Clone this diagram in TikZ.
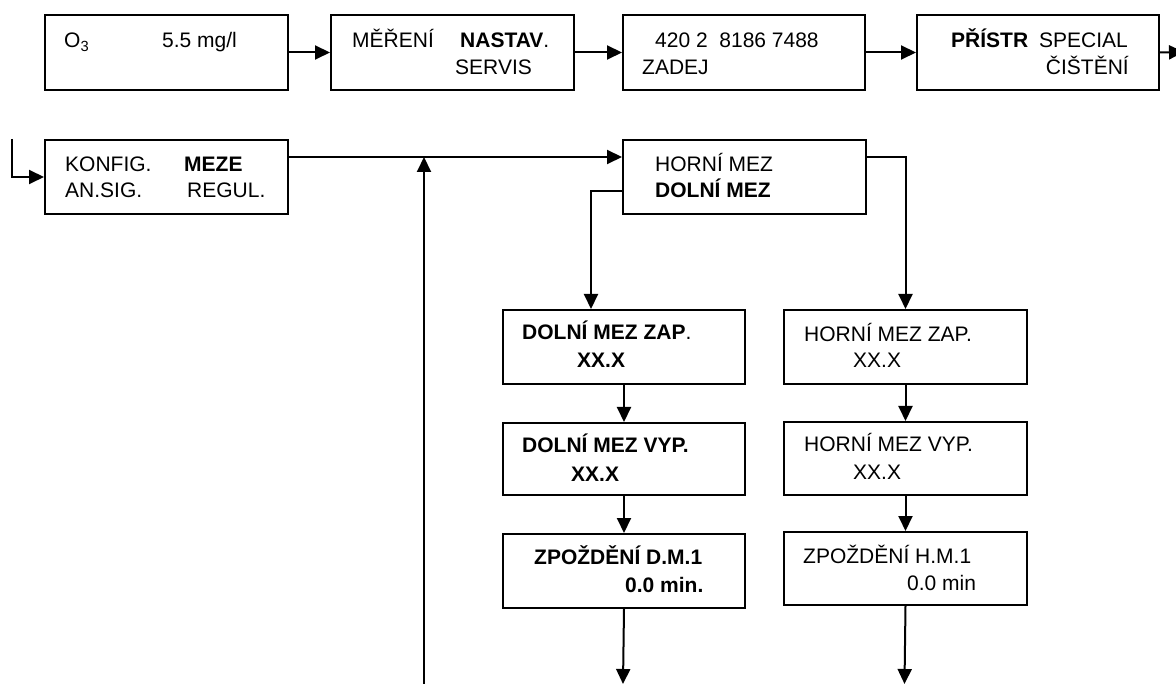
\documentclass[tikz,border=0pt]{standalone}
\usepackage{fontspec}
\setmainfont{Liberation Sans}
\usetikzlibrary{arrows.meta}
\begin{document}
\begin{tikzpicture}[x=1pt,y=-1pt,
  box/.style={draw,line width=2pt,anchor=north west,inner sep=0pt,minimum width=#1},
  box/.default=243pt,
  txt/.style={anchor=base west,inner sep=0pt,font=\fontsize{21}{25}\selectfont},
  txtr/.style={anchor=base east,inner sep=0pt,font=\fontsize{21}{25}\selectfont},
  conn/.style={line width=2pt,-{Triangle[length=15pt,width=14pt]}},
  plain/.style={line width=2pt}]
\useasboundingbox (0,0) rectangle (1176,684);
\clip (0,0) rectangle (1176,684);
% top row
\node[box,minimum height=75pt] (b1) at (44,14) {};
\node[box,minimum height=75pt] (b2) at (330,14) {};
\node[box=242pt,minimum height=75pt] (b3) at (622,14) {};
\node[box=242pt,minimum height=75pt] (b4) at (916,14) {};
% second row
\node[box,minimum height=74pt] (k) at (44,139) {};
\node[box,minimum height=74pt] (h) at (622,139) {};
% left column
\node[box=242pt,minimum height=74pt] (l1) at (502,309) {};
\node[box=242pt,minimum height=72pt] (l2) at (502,422) {};
\node[box=242pt,minimum height=74pt] (l3) at (502,533) {};
% right column
\node[box,minimum height=74pt] (r1) at (783,309) {};
\node[box,minimum height=73pt] (r2) at (783,421) {};
\node[box,minimum height=73pt] (r3) at (783,531) {};
% texts
\node[txt] (t1a) at (64,48) {O\textsubscript{3}};
\node[txt] (t1b) at (162,48) {5.5 mg/l};
\node[txt] (t2a) at (352,48) {MĚŘENÍ};
\node[txt] (t2b) at (460,48) {\textbf{NASTAV}.};
\node[txt] (t2c) at (455,75) {SERVIS};
\node[txt] (t3a) at (655,48) {420 2\ \ 8186 7488};
\node[txt] (t3b) at (642,75) {ZADEJ};
\node[txt] (t4a) at (951,48) {\textbf{PŘÍSTR}};
\node[txtr] (t4b) at (1128,48) {SPECIAL};
\node[txtr] (t4c) at (1129,75) {ČIŠTĚNÍ};
\node[txt] (tka) at (65,172) {KONFIG.};
\node[txt] (tkb) at (184,172) {\textbf{MEZE}};
\node[txt] (tkc) at (65,198) {AN.SIG.};
\node[txt] (tkd) at (187,198) {REGUL.};
\node[txt] (tha) at (655,172) {HORNÍ MEZ};
\node[txt] (thb) at (655,198) {\textbf{DOLNÍ MEZ}};
\node[txt] (tl1a) at (522,340) {\textbf{DOLNÍ MEZ ZAP}.};
\node[txt] (tl1b) at (577,368) {\textbf{XX.X}};
\node[txt] (tl2a) at (522,453) {\textbf{DOLNÍ MEZ VYP.}};
\node[txt] (tl2b) at (571,482) {\textbf{XX.X}};
\node[txt] (tl3a) at (534,564) {\textbf{ZPOŽDĚNÍ D.M.1}};
\node[txt] (tl3b) at (625,592) {\textbf{0.0 min.}};
\node[txt] (tr1a) at (804,342) {HORNÍ MEZ ZAP.};
\node[txt] (tr1b) at (853,368) {XX.X};
\node[txt] (tr2a) at (804,452) {HORNÍ MEZ VYP.};
\node[txt] (tr2b) at (853,479) {XX.X};
\node[txt] (tr3a) at (803,563) {ZPOŽDĚNÍ H.M.1};
\node[txt] (tr3b) at (907,590) {0.0 min};
% free ends
\coordinate (out) at (1184,52);
\coordinate (in) at (12,139);
\coordinate (upstart) at (424,684);
\coordinate (ldown) at (623,684);
\coordinate (rdown) at (904.5,684);
% connectors
\draw[conn] (b1.east) -- (b2.west);
\draw[conn] (b2.east) -- (b3.west);
\draw[conn] (b3.east) -- (b4.west);
\draw[conn] (b4.east) -- (out);
\draw[conn] (in) |- (k.west);
\draw[conn] (k.east |- 0,157) -- (h.west |- 0,157);
\draw[conn] (upstart) -- (424,157);
\draw[conn] (h.east |- 0,157) -| (r1.north);
\draw[conn] (h.west |- 0,191) -| (l1.north -| 591,0);
\draw[conn] (l1.south) -- (l2.north);
\draw[conn] (l2.south) -- (l3.north);
\draw[conn] (l3.south) -- (ldown);
\draw[conn] (r1.south) -- (r2.north);
\draw[conn] (r2.south) -- (r3.north);
\draw[conn] (r3.south) -- (rdown);
\end{tikzpicture}
\end{document}
